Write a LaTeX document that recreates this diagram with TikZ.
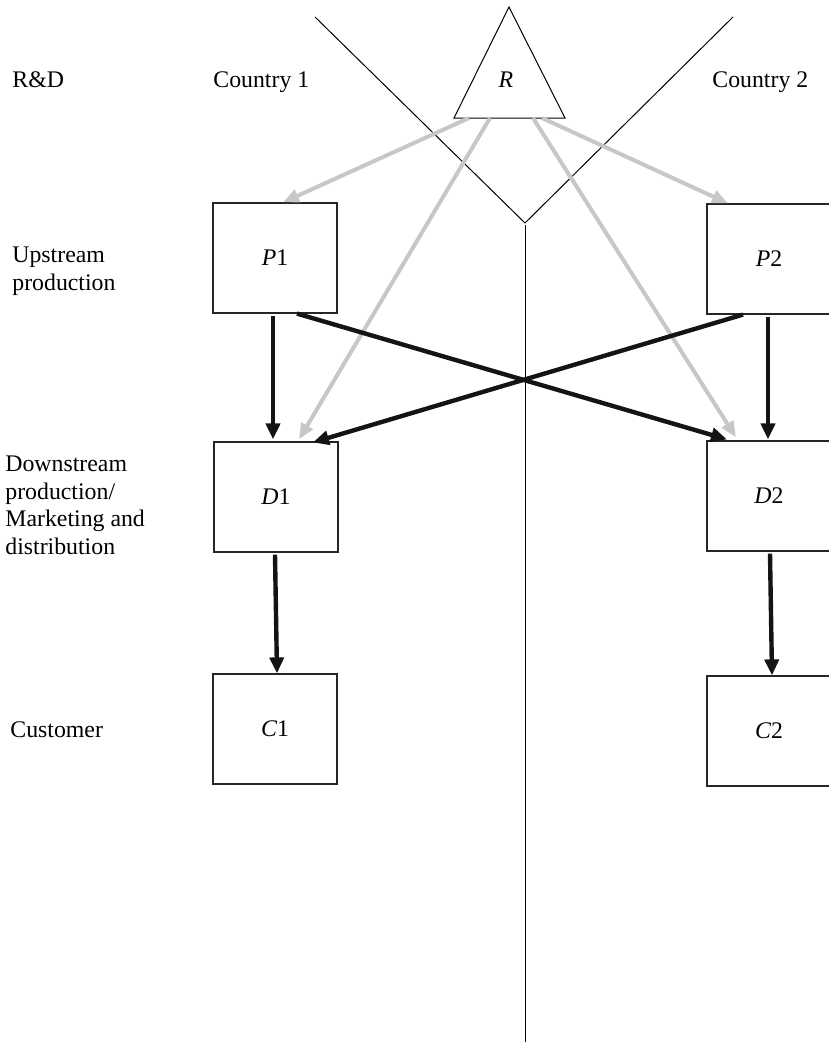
\documentclass[tikz,border=0pt]{standalone}
\usepackage{fontspec}
\setmainfont{Liberation Serif}
\usetikzlibrary{arrows.meta}

\begin{document}
\begin{tikzpicture}[x=0.5pt,y=-0.5pt,
  every node/.style={font=\fontsize{11.9}{13.75}\selectfont},
  stage/.style={draw=black!85,line width=0.6pt,minimum width=62pt,minimum height=55pt,inner sep=0pt},
  rowtext/.style={anchor=base west,inner sep=0pt,align=left},
  border/.style={line width=0.5pt},
  flow/.style={line width=2.2pt,black!92,-{Triangle[length=8pt,width=7pt]}},
  know/.style={line width=2pt,black!22,-{Triangle[length=8pt,width=6.5pt]}}]
\useasboundingbox (0,0) rectangle (829,1044);
\clip (0,0) rectangle (829,1044);

% row names and countries
\node[rowtext] (rd) at (12,87) {R\&D};
\node[rowtext] (cty1) at (213,87) {Country 1};
\node[rowtext] (cty2) at (712,87) {Country 2};
\node[rowtext] (up) at (12,290) {Upstream\\production};
\node[rowtext] (down) at (5,554) {Downstream\\production/\\Marketing and\\distribution};
\node[rowtext] (cust) at (10,737) {Customer};

% border between the countries
\coordinate (vl) at (315,17);
\coordinate (vr) at (733,17);
\coordinate (vb) at (525,223);
\coordinate (vend) at (525,1042);
\draw[border] (vl) -- (vb) -- (vr);
\draw[border] ([yshift=-1pt]vb) -- (vend);

% R&D
\coordinate (Rtop) at (509,7);
\coordinate (Rleft) at (454,118);
\coordinate (Rright) at (565,118);
\draw[border] (Rtop) -- (Rleft) -- (Rright) -- cycle;
\node (R) at (506,80) {\textit{R}};
\coordinate (r1) at (469,118);
\coordinate (r2) at (490,118);
\coordinate (r3) at (533,118);
\coordinate (r4) at (542,118);

% stages
\node[stage] (P1) at (275,258) {\textit{P}1};
\node[stage] (P2) at (769,259) {\textit{P}2};
\node[stage] (D1) at (276,497) {\textit{D}1};
\node[stage] (D2) at (769,496) {\textit{D}2};
\node[stage] (C1) at (275,729) {\textit{C}1};
\node[stage] (C2) at (769,731) {\textit{C}2};

% knowledge flows
\draw[know] (r1) -- ([xshift=4pt]P1.north);
\draw[know] (r2) -- ([xshift=11.5pt,yshift=1pt]D1.north);
\draw[know] (r3) -- ([xshift=-16.5pt,yshift=1.5pt]D2.north);
\draw[know] (r4) -- ([xshift=-20.5pt]P2.north);

% product flows
\draw[flow] ([xshift=-1pt,yshift=-1pt]P1.south) -- ([xshift=-1.5pt,yshift=1pt]D1.north);
\draw[flow] ([xshift=11pt]P1.south) -- ([xshift=-21pt,yshift=0.5pt]D2.north);
\draw[flow] ([xshift=-13pt]P2.south) -- ([xshift=18.5pt,yshift=-0.5pt]D1.north);
\draw[flow] ([xshift=-0.5pt,yshift=-1pt]P2.south) -- ([xshift=-0.5pt,yshift=0.5pt]D2.north);
\draw[flow] ([xshift=-0.5pt,yshift=-1pt]D1.south) -- ([xshift=1pt]C1.north);
\draw[flow] ([xshift=0.5pt,yshift=-1pt]D2.south) -- ([xshift=1.5pt]C2.north);
\end{tikzpicture}
\end{document}
